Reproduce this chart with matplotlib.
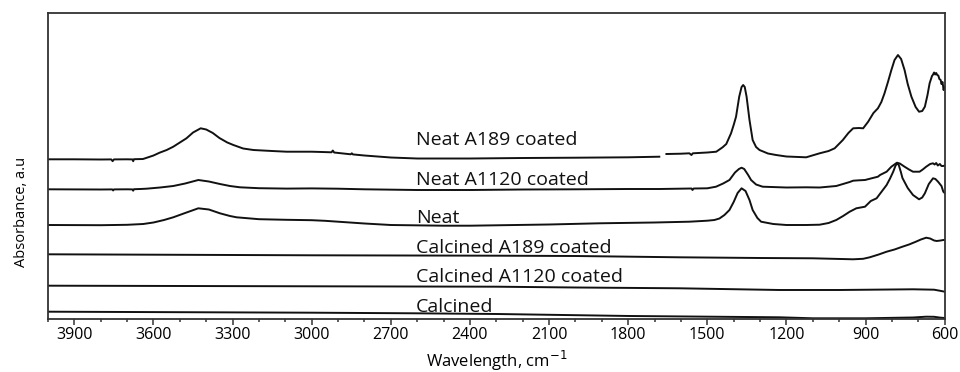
import numpy as np
import matplotlib
matplotlib.use("Agg")
import matplotlib.pyplot as plt
from matplotlib.ticker import MultipleLocator

plt.rcParams['font.family'] = ['Open Sans', 'DejaVu Sans']

# FTIR spectra (wavenumber in cm-1, stacked absorbance in arbitrary units)
neat_a189_wn = [4000, 3900, 3800, 3760, 3755, 3750, 3700, 3680, 3677, 3674, 3640, 3634,
                3600, 3577, 3550, 3525, 3500, 3475, 3450, 3421, 3400, 3375, 3350, 3320,
                3297, 3260, 3221, 3150, 3095, 3000, 2960, 2925, 2920, 2915, 2852, 2848,
                2844, 2800, 2700, 2600, 2400, 2200, 2000, 1800, 1682, 1670,
                1655, 1600, 1568, 1560, 1555, 1500, 1466, 1442, 1428, 1410, 1400, 1391,
                1379, 1370, 1364, 1358, 1351, 1340, 1328, 1315, 1302, 1270, 1239, 1200,
                1125, 1074, 1040, 1017, 986, 965, 947, 925, 909, 890, 870, 853, 840, 828,
                815, 802, 790, 777, 765, 752, 740, 726, 710, 697, 685, 675, 665, 657,
                648, 645, 640, 636, 632, 628, 624, 620, 615, 612, 608, 604, 601, 600]
neat_a189_abs = [159.7, 159.7, 159.5, 159.6, 157.8, 159.6, 159.7, 159.6, 157.8, 159.8, 160.0, 160.5,
                 163.5, 166.3, 169.0, 172.3, 176.5, 180.7, 186.5, 190.7, 189.5, 186.0, 181.0, 176.5,
                 174.0, 170.5, 169.0, 168.0, 167.3, 167.3, 167.0, 166.7, 168.5, 166.5, 164.7, 165.7,
                 164.6, 163.5, 161.5, 160.5, 160.5, 161.0, 161.3, 161.7, 162.3, np.nan,
                 165.0, 165.3, 165.7, 164.0, 165.7, 166.5, 167.3, 171.7, 175.0, 185.7, 194.0, 202.3,
                 222.3, 232.0, 234.0, 232.0, 222.3, 199.0, 179.0, 172.0, 169.0, 165.5, 164.0, 162.5,
                 161.7, 165.7, 168.0, 170.7, 179.0, 186.0, 190.7, 191.0, 190.7, 197.3, 206.0, 210.7, 217.0, 225.7,
                 237.0, 249.0, 259.0, 264.0, 260.0, 249.0, 235.0, 222.3, 212.0, 207.3, 208.0, 212.3, 224.0, 235.7,
                 243.0, 244.0, 246.5, 244.5, 246.0, 244.0, 243.5, 240.0, 239.0, 235.0, 237.0, 229.0, 232.0, 230.0]

neat_a1120_wn = [4000, 3800, 3756, 3753, 3750, 3700, 3680, 3677, 3674, 3650, 3627, 3575,
                 3525, 3480, 3430, 3390, 3348, 3310, 3272, 3200, 3095, 3000, 2900, 2800,
                 2600, 2400, 2200, 2000, 1800, 1682, 1560, 1556, 1552, 1500, 1467, 1440,
                 1416, 1395, 1380, 1370, 1360, 1345, 1334, 1315, 1290, 1200, 1125, 1074,
                 1011, 960, 947, 925, 902, 880, 853, 845, 820, 802, 781, 770, 752, 735,
                 720, 695, 683, 670, 655, 644, 638, 632, 626, 618, 612, 605, 600]
neat_a1120_abs = [129.7, 129.5, 129.6, 128.5, 129.6, 129.7, 129.6, 128.3, 129.8, 130.0, 130.3, 131.5,
                  133.0, 135.5, 139.0, 137.5, 135.0, 133.0, 131.7, 130.8, 130.4, 130.6, 130.3, 129.7,
                  129.0, 129.0, 129.5, 129.7, 130.0, 130.0, 130.5, 129.0, 130.5, 130.7, 132.3, 135.5,
                  139.0, 146.5, 150.0, 151.3, 150.0, 144.0, 139.0, 134.5, 132.3, 131.5, 131.7, 131.5,
                  133.0, 137.0, 138.3, 138.7, 139.0, 140.5, 142.3, 144.0, 147.3, 152.3, 156.3, 155.5, 152.3, 149.5,
                  147.3, 147.3, 149.5, 152.3, 155.0, 155.7, 154.5, 156.0, 153.5, 155.0, 153.0, 153.0, 153.5]

neat_wn = [4000, 3800, 3700, 3639, 3600, 3560, 3525, 3480, 3430, 3390, 3348, 3310,
           3285, 3200, 3095, 3000, 2950, 2900, 2800, 2700, 2500, 2400, 2300, 2100, 1910,
           1700, 1568, 1500, 1473, 1454, 1435, 1416, 1400, 1385, 1370, 1355, 1340,
           1328, 1310, 1296, 1250, 1200, 1125, 1074, 1040, 1011, 985, 960, 935,
           902, 880, 858, 840, 820, 807, 795, 786, 780, 774, 766, 760, 740, 720, 697, 685,
           675, 660, 644, 635, 625, 612, 605, 600]
neat_abs = [94.0, 93.8, 94.2, 95.0, 96.5, 99.0, 101.7, 106.0, 110.7, 109.5, 105.7, 103.0,
            101.7, 99.8, 99.2, 98.8, 98.2, 97.3, 95.5, 94.0, 93.3, 93.3, 93.7, 94.5, 95.7,
            96.5, 97.3, 98.3, 99.0, 100.5, 104.0, 109.0, 117.0, 126.0, 130.7, 128.0, 119.0,
            109.0, 101.0, 97.3, 95.0, 94.0, 94.0, 94.3, 96.0, 99.0, 103.0, 107.3, 110.7,
            112.3, 118.0, 120.7, 127.0, 134.0, 140.5, 147.3, 153.5, 155.5, 154.0, 147.0, 141.0,
            131.0, 124.0, 119.7, 121.5,
            125.7, 135.0, 140.7, 140.0, 137.3, 133.0, 127.3, 126.0]

calc_a189_wn = [4000, 3500, 3000, 2300, 2000, 1606, 1300, 1100, 947, 909, 884, 850,
                820, 790, 760, 735, 709, 690, 670, 655, 640, 630, 615, 605, 600]
calc_a189_abs = [64.7, 64.2, 63.7, 63.3, 63.0, 61.7, 61.0, 60.7, 59.7, 60.2, 61.7, 64.5,
                 67.3, 69.5, 72.3, 74.5, 77.3, 79.5, 81.3, 80.5, 78.5, 78.0, 78.5, 79.0, 79.0]

calc_a1120_wn = [4000, 3000, 2300, 2000, 1606, 1227, 1000, 720, 640, 619, 600]
calc_a1120_abs = [33.3, 32.7, 32.3, 31.5, 30.7, 29.0, 29.0, 29.7, 29.3, 28.3, 27.3]

calc_wn = [4000, 3500, 3000, 2614, 2300, 1796, 1227, 1100, 900, 720, 670, 640, 615, 600]
calc_abs = [7.3, 6.8, 6.3, 5.7, 5.0, 3.0, 1.7, 0.7, 0.7, 1.5, 2.3, 2.2, 1.3, 1.0]

series = [
    ("Neat A189 coated", neat_a189_wn, neat_a189_abs, 179),
    ("Neat A1120 coated", neat_a1120_wn, neat_a1120_abs, 139),
    ("Neat", neat_wn, neat_abs, 101),
    ("Calcined A189 coated", calc_a189_wn, calc_a189_abs, 71),
    ("Calcined A1120 coated", calc_a1120_wn, calc_a1120_abs, 42),
    ("Calcined", calc_wn, calc_abs, 12),
]

fig = plt.figure(figsize=(9.6, 3.72), dpi=100)
ax = fig.add_axes([0.05, 0.1425, 0.934, 0.8225])

for name, wn, ab, label_y in series:
    ax.plot(wn, ab, color="#111111", lw=1.4, solid_joinstyle="round")
    ax.text(2605, label_y, name, fontsize=14, color="#111111",
            ha="left", va="center")

ax.set_xlim(4000, 600)
ax.set_ylim(0, 306)
ax.xaxis.set_minor_locator(MultipleLocator(100))
ax.set_xticks(np.arange(3900, 599, -300))
ax.set_yticks([])
ax.tick_params(axis="x", which="major", direction="out", length=4, width=1.1,
               labelsize=11.5, color="#333333", pad=2)
ax.tick_params(axis="x", which="minor", direction="out", length=2.5, width=1.1,
               color="#333333")
for s in ax.spines.values():
    s.set_linewidth(1.3)
    s.set_color("#333333")

ax.set_xlabel("Wavelength, cm$^{-1}$", fontsize=12, labelpad=4)
ax.set_ylabel("Absorbance, a.u", fontsize=10.5)
ax.yaxis.set_label_coords(-0.021, 0.35)

fig.savefig("out.png", dpi=100)
